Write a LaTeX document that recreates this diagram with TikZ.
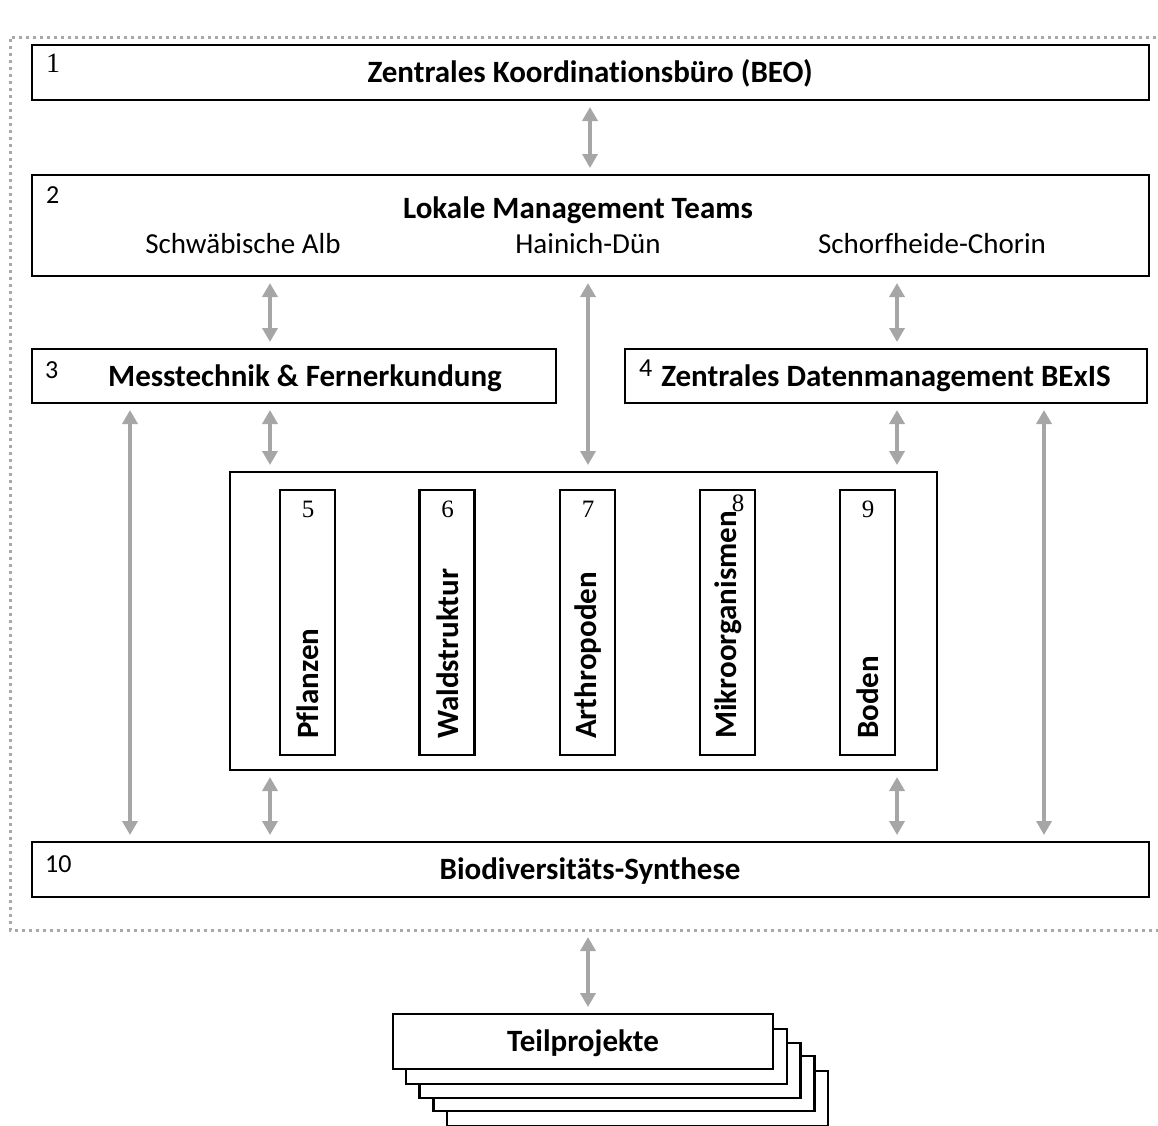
\documentclass[tikz,border=0pt]{standalone}
\usepackage{fontspec}
\setmainfont[Ligatures={NoCommon}]{Carlito}
\newfontfamily\numserif{Liberation Serif}
\usetikzlibrary{arrows.meta}
\definecolor{arrowgray}{HTML}{A6A6A6}
\definecolor{framegray}{HTML}{A8A8A8}
\tikzset{
  box/.style={draw=black, line width=2.4pt, fill=white, inner sep=0pt, outer sep=0pt},
  title/.style={font=\fontsize{31}{36}\selectfont\bfseries, inner sep=0pt},
  sub/.style={font=\fontsize{29}{34}\selectfont, inner sep=0pt},
  num/.style={font=\fontsize{28}{32}\selectfont\numserif, inner sep=0pt, anchor=base west},
  numsans/.style={font=\fontsize{26}{30}\selectfont, inner sep=0pt, anchor=base west},
  numsmall/.style={font=\fontsize{25}{29}\selectfont\numserif, inner sep=0pt, anchor=base},
  vtext/.style={font=\fontsize{31}{36}\selectfont\bfseries, rotate=90, anchor=west, inner sep=0pt},
  biarrow/.style={draw=arrowgray, line width=4pt, {Triangle[width=15pt,length=14pt]}-{Triangle[width=15pt,length=14pt]}, shorten <=7pt, shorten >=7pt},
}
\begin{document}
\begin{tikzpicture}[x=1pt,y=-1pt]
\useasboundingbox (0,0) rectangle (1158,1125);
\clip (0,0) rectangle (1158,1125);
% dotted frame
\draw[framegray, line width=3pt, dash pattern=on 3pt off 4pt] (1170,37) -- (10,37) -- (10,930) -- (1170,930);

% boxes
\node[box, minimum width=1117pt, minimum height=55pt] (b1) at (590.5,72.5) {};
\node[title] (t1) at (590,73) {Zentrales Koordinationsbüro (BEO)};
\node[num] (n1) at (46,72) {1};

\node[box, minimum width=1117pt, minimum height=101pt] (b2) at (590.5,225.5) {};
\node[title] (t2) at (578,210) {Lokale Management Teams};
\node[sub] (s2a) at (243,244) {Schwäbische Alb};
\node[sub] (s2b) at (588,244) {Hainich-Dün};
\node[sub] (s2c) at (932,244) {Schorfheide-Chorin};
\node[numsans] (n2) at (46,203) {2};

\node[box, minimum width=524pt, minimum height=54pt] (b3) at (294,376) {};
\node[title] (t3) at (305,378) {Messtechnik \& Fernerkundung};
\node[numsans] (n3) at (45,378) {3};

\node[box, minimum width=522pt, minimum height=54pt] (b4) at (886,376) {};
\node[title] (t4) at (886,378) {Zentrales Datenmanagement BExIS};
\node[numsans] (n4) at (639,376) {4};

\node[box, minimum width=707pt, minimum height=298pt] (mid) at (583.5,621) {};

\node[box, minimum width=55pt, minimum height=265pt] (b5) at (307.5,622.5) {};
\node[box, minimum width=55pt, minimum height=265pt] (b6) at (447,622.5) {};
\node[box, minimum width=55pt, minimum height=265pt] (b7) at (587.5,622.5) {};
\node[box, minimum width=55pt, minimum height=265pt] (b8) at (727.5,622.5) {};
\node[box, minimum width=55pt, minimum height=265pt] (b9) at (867.5,622.5) {};
\node[numsmall] (n5) at (308,517) {5};
\node[numsmall] (n6) at (447.5,517) {6};
\node[numsmall] (n7) at (588,517) {7};
\node[numsmall] (n8) at (738,511) {8};
\node[numsmall] (n9) at (868,517) {9};
\node[vtext] (v5) at (308,739) {Pflanzen};
\node[vtext] (v6) at (448,739) {Waldstruktur};
\node[vtext] (v7) at (588,739) {Arthropoden};
\node[vtext] (v8) at (728,739) {Mikroorganismen};
\node[vtext] (v9) at (868,739) {Boden};

\node[box, minimum width=1117pt, minimum height=55pt] (b10) at (590.5,869.5) {};
\node[title] (t10) at (590,871) {Biodiversitäts-Synthese};
\node[numsans] (n10) at (45,872) {10};

% Teilprojekte stack
\node[box, minimum width=381pt, minimum height=55pt] (tp4) at (637.5,1098.5) {};
\node[box, minimum width=381pt, minimum height=55pt] (tp3) at (624,1083.5) {};
\node[box, minimum width=381pt, minimum height=55pt] (tp2) at (610,1070.5) {};
\node[box, minimum width=381pt, minimum height=55pt] (tp1) at (596.5,1056.5) {};
\node[box, minimum width=380pt, minimum height=55pt] (tp) at (583,1041.5) {};
\node[title] (ttp) at (583,1043) {Teilprojekte};

% column coordinates
\coordinate (c130) at (130,0);
\coordinate (c270) at (270,0);
\coordinate (c588) at (588,0);
\coordinate (c590) at (590,0);
\coordinate (c897) at (897,0);
\coordinate (c1044) at (1044,0);
\coordinate (frameB) at (588,930);

% arrows
\draw[biarrow] (b1.south -| c590) -- (b2.north -| c590);
\draw[biarrow] (b2.south -| c270) -- (b3.north -| c270);
\draw[biarrow] (b2.south -| c588) -- (mid.north -| c588);
\draw[biarrow] (b2.south -| c897) -- (b4.north -| c897);
\draw[biarrow] (b3.south -| c270) -- (mid.north -| c270);
\draw[biarrow] (b4.south -| c897) -- (mid.north -| c897);
\draw[biarrow] (b3.south -| c130) -- (b10.north -| c130);
\draw[biarrow] (b4.south -| c1044) -- (b10.north -| c1044);
\draw[biarrow] (mid.south -| c270) -- (b10.north -| c270);
\draw[biarrow] (mid.south -| c897) -- (b10.north -| c897);
\draw[biarrow] (frameB) -- (tp.north -| c588);
\end{tikzpicture}
\end{document}
